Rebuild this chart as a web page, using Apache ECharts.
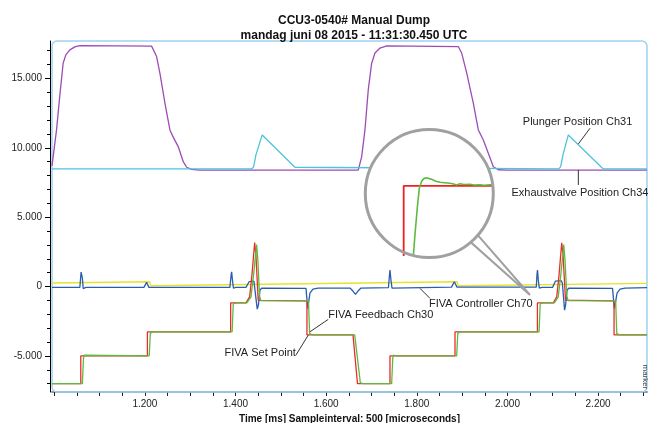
<!DOCTYPE html>
<html>
<head>
<meta charset="utf-8">
<script src="https://cdn.jsdelivr.net/npm/echarts@6/dist/echarts.min.js"></script>
<style>
  html, body { margin: 0; padding: 0; background: #fff; }
  #main { width: 651px; height: 423px; }
</style>
</head>
<body>
<div id="main"></div>
<script>
// tijd in ms, waarden in ruwe eenheden
const xTickMarks = [1000, 1050, 1100, 1150, 1200, 1250, 1300, 1350, 1400, 1450, 1500, 1550, 1600, 1650,
  1700, 1750, 1800, 1850, 1900, 1950, 2000, 2050, 2100, 2150, 2200, 2250, 2300]
const xLabels = [1200, 1400, 1600, 1800, 2000, 2200]
const yLabels = [-5000, 0, 5000, 10000, 15000]
const yMinorTicks = [-7000, -6000, -5000, -4000, -3000, -2000, -1000, 0, 1000, 2000, 3000, 4000, 5000,
  6000, 7000, 8000, 9000, 10000, 11000, 12000, 13000, 14000, 15000, 16000, 17000]

// Exhaustvalve Position Ch34
const exhaustValve = [
  [995, 8700], [1005, 11290], [1012.4, 13820], [1019.6, 16100], [1025.5, 16700], [1034.4, 17060],
  [1045.4, 17280], [1056.5, 17370], [1214.8, 17330], [1218.3, 17260], [1225.8, 16580], [1233.1, 15380],
  [1244.2, 13220], [1255.2, 11290], [1262.5, 10770], [1273.5, 10090], [1284.6, 9000], [1292.1, 8600],
  [1303.1, 8450], [1320, 8390], [1670.9, 8400], [1678.4, 9370], [1685.6, 11290], [1692.9, 14180],
  [1700.4, 16100], [1707.7, 16830], [1718.8, 17190], [1733.6, 17350], [1891.6, 17300], [1899.1, 16830],
  [1910.2, 15380], [1924.7, 13220], [1935.8, 11290], [1946.8, 10570], [1957.8, 9610], [1968.9, 8640],
  [1979.9, 8420], [2000, 8390], [2308, 8390]
]

// Plunger Position Ch31
const plunger = [
  [995, 8480], [1436.2, 8480], [1440, 8650], [1445, 9490], [1458.9, 10930], [1531.1, 8600], [1535.5, 8480],
  [2113.5, 8480], [2117.5, 8650], [2122.5, 9490], [2134.4, 10930], [2207.5, 8600], [2212, 8480], [2308, 8480]
]

// gele hulplijn
const auxTrace = [[995, 255], [1210.5, 346], [1212.5, 60], [1889, 346], [1891, 60], [2308, 236]]

// FIVA Controller Ch70
const controller = [
  [995, -60],
  [1056.5, -58], [1059.2, 1046], [1060.2, 1190], [1062, 613], [1063.8, -144], [1066.4, -108], [1069.8, -58],
  [1197.8, -58], [1203.8, 303], [1208.8, -58],
  [1387.6, -58], [1390.5, 902], [1391.4, 1068], [1393.2, 469], [1395.4, -108], [1400.9, -58],
  [1423, -58], [1430.3, 361], [1440.6, 397], [1443.9, 253], [1447.9, -1623], [1450.5, -1335], [1453.9, -253], [1458.3, -108],
  [1555.5, -130], [1557.7, -974], [1559.2, -1573], [1561, -1190], [1564.2, -469], [1570.9, -180], [1582, -108],
  [1652.5, -108], [1659.1, -325], [1664.7, -563], [1670.2, -325], [1676.8, -108],
  [1737.5, -72], [1739.7, 830], [1740.8, 1190], [1743, 469], [1745.3, -108], [1749.7, -72],
  [1876.6, -40], [1882.8, 346], [1888.7, -40],
  [2063.7, -40], [2065.3, 902], [2066.4, 1190], [2068.1, 469], [2070.4, -108], [2075.9, -58],
  [2099.6, -58], [2106.2, 397], [2118.4, 433], [2121.2, 253], [2126.1, -1696], [2128.3, -1335], [2131.6, -253], [2136, -108],
  [2232, -130], [2234.2, -974], [2236, -1573], [2238.2, -1190], [2241.9, -469], [2248.6, -180], [2259.6, -108],
  [2308, -72]
]

// FIVA Set Point
const setPoint = [
  [995, -7000], [1058.5, -7000], [1058.5, -5000], [1205.5, -5000], [1205.5, -3270], [1389.2, -3270], [1389.2, -1180],
  [1423, -1180], [1431.1, -740], [1436.2, 830], [1442.2, 3170], [1445, 2270], [1450.1, -1000], [1453.9, -1030],
  [1557.6, -1030], [1557.6, -3480], [1659.2, -3480], [1669.1, -7000], [1740.8, -7000], [1740.8, -5000],
  [1884.3, -5000], [1884.3, -3270], [2066.2, -3270], [2066.2, -1180],
  [2101.3, -1180], [2108.8, -740], [2113.9, 830], [2119.8, 3160], [2122.7, 2270], [2128.2, -980], [2131.6, -1030],
  [2235.3, -1030], [2235.3, -3480], [2308, -3480]
]

// FIVA Feedbach Ch30
const feedback = [
  [995, -7000], [1062, -7000], [1064.5, -5150], [1066, -4950], [1070, -5000],
  [1209.5, -5000], [1212, -3350], [1214, -3220], [1218, -3270],
  [1392.5, -3270], [1395, -1250], [1397, -1130], [1402, -1180],
  [1425, -1180], [1434, -760], [1440, 900], [1446.5, 3030], [1449.5, 1800], [1453, -700], [1456, -1010], [1460, -1030],
  [1561, -1030], [1563.5, -3400], [1565.5, -3530], [1570, -3480],
  [1663, -3480], [1675.5, -6950], [1678, -7020], [1682, -7000],
  [1744.5, -7000], [1747, -5150], [1748.5, -4950], [1753, -5000],
  [1888, -5000], [1890.5, -3350], [1892.5, -3220], [1897, -3270],
  [2069.8, -3270], [2072.3, -1250], [2074, -1130], [2079, -1180],
  [2103.5, -1180], [2112, -760], [2118, 900], [2124.3, 3030], [2127.3, 1800], [2131, -700], [2134, -1010], [2138, -1030],
  [2238.8, -1030], [2241.3, -3400], [2243.3, -3530], [2248, -3480],
  [2308, -3480]
]

// vergroting van de stap rond 1.740 ms
const zoomSetPoint = [[1736, -7000], [1739.1, -7000], [1739.1, -5000], [1746.5, -5000]]
const zoomFeedback = [
  [1739.6, -7000], [1739.85, -5561], [1739.98, -5389], [1740.16, -5177], [1740.32, -5019], [1740.51, -4961],
  [1740.7, -4940], [1740.9, -4935], [1741.1, -4942], [1741.29, -4947], [1741.6, -4962], [1741.94, -4971],
  [1742.3, -4974], [1742.72, -4979], [1743.0, -4984], [1743.24, -4992], [1743.5, -4983], [1743.8, -4988],
  [1744.28, -4987], [1744.6, -4993], [1745.06, -4990], [1745.4, -4994], [1745.84, -4991], [1746.5, -4992]
]

// labels met aanwijslijn, in data-eenheden
const annotations = [
  { text: 'Plunger Position Ch31', at: [2154.7, 11869], from: [2182.3, 11414], to: [2156.5, 10281] },
  { text: 'Exhaustvalve Position Ch34', at: [2160, 6724], from: [2156.5, 7323], to: [2156.5, 8405] },
  { text: 'FIVA Controller Ch70', at: [1941.3, -1227], from: [1829.1, -851], to: [1807.1, -130] },
  { text: 'FIVA Feedbach Ch30', at: [1720.5, -2056], from: [1604.6, -2367], to: [1564.2, -3261] },
  { text: 'FIVA Set Point', at: [1454.5, -4776], from: [1533.3, -4942], to: [1560.5, -3499] }
]

const FONT = '"Liberation Sans", Arial, sans-serif'

const fmt = (v) => {
  const s = Math.abs(Math.round(v)).toString().replace(/\B(?=(\d{3})+(?!\d))/g, '.')
  return (v < 0 ? '-' : '') + s
}

const lineSeries = (name, data, color, extra) => Object.assign({
  name,
  type: 'line',
  data,
  showSymbol: false,
  symbol: 'none',
  animation: false,
  z: 2,
  lineStyle: { color, width: 1.3 }
}, extra || {})

const chart = echarts.init(document.getElementById('main'))

const option = {
  animation: false,
  backgroundColor: '#fff',
  title: {
    text: 'CCU3-0540# Manual Dump\nmandag juni 08 2015 - 11:31:30.450 UTC',
    left: 349,
    textAlign: 'center',
    top: 8,
    textStyle: { fontFamily: FONT, fontWeight: 'bold', fontSize: 12, lineHeight: 15, color: '#111' }
  },
  grid: [
    { left: 52, top: 41, width: 595, height: 351, outerBoundsMode: 'none', containLabel: false },
    { left: 364, top: 129, width: 128, height: 126, outerBoundsMode: 'none', containLabel: false }
  ],
  xAxis: [
    {
      type: 'value', gridIndex: 0, position: 'bottom', min: 995, max: 2308,
      axisLine: { show: true, onZero: false, lineStyle: { color: '#8d99a6', width: 2 } },
      axisTick: { show: true, inside: false, customValues: xTickMarks, length: 4, lineStyle: { color: '#222', width: 1 } },
      axisLabel: { customValues: xLabels, formatter: fmt, fontSize: 10, color: '#222', fontFamily: FONT, margin: 7 },
      splitLine: { show: false },
      name: 'Time [ms] Sampleinterval: 500 [microseconds]',
      nameLocation: 'middle',
      nameGap: 19,
      nameTextStyle: { fontFamily: FONT, fontWeight: 'bold', fontSize: 10, color: '#111' }
    },
    { type: 'value', gridIndex: 1, min: 1736, max: 1746, show: false }
  ],
  yAxis: [
    {
      type: 'value', gridIndex: 0, position: 'left', min: -7600, max: 17700, offset: 2,
      axisLine: { show: true, onZero: false, lineStyle: { color: '#000', width: 1 } },
      axisTick: { show: true, customValues: yLabels, length: 5, lineStyle: { color: '#000' } },
      axisLabel: { customValues: yLabels, formatter: fmt, fontSize: 10, color: '#222', fontFamily: FONT, margin: 8 },
      splitLine: { show: false }
    },
    {
      type: 'value', gridIndex: 0, position: 'left', min: -7600, max: 17700, offset: 2,
      axisLine: { show: false },
      axisTick: { show: true, customValues: yMinorTicks, length: 3, lineStyle: { color: '#000' } },
      axisLabel: { show: false },
      splitLine: { show: false }
    },
    { type: 'value', gridIndex: 1, min: -5548, max: -4548, show: false }
  ],
  series: [
    lineSeries('Exhaustvalve Position Ch34', exhaustValve, '#9c4db3'),
    lineSeries('Plunger Position Ch31', plunger, '#4dc4da'),
    lineSeries('aux', auxTrace, '#e4e42c'),
    lineSeries('FIVA Controller Ch70', controller, '#2a5db0'),
    lineSeries('FIVA Set Point', setPoint, '#ee2a2a'),
    lineSeries('FIVA Feedbach Ch30', feedback, '#5cbb3e'),
    lineSeries('zoom set point', zoomSetPoint, '#f02020',
      { xAxisIndex: 1, yAxisIndex: 2, z: 11, lineStyle: { color: '#f02020', width: 1.8 } }),
    lineSeries('zoom feedback', zoomFeedback, '#5cbb3e',
      { xAxisIndex: 1, yAxisIndex: 2, z: 11, lineStyle: { color: '#5cbb3e', width: 1.6 } })
  ]
}

chart.setOption(option)

const px = (p) => chart.convertToPixel({ xAxisIndex: 0, yAxisIndex: 0 }, p)

const graphics = [
  // kader
  { type: 'rect', z: 1, shape: { x: 52, y: 41, width: 595, height: 351, r: 5 },
    style: { fill: 'none', stroke: '#9fd2f0', lineWidth: 1.5 } },
  // vergrootglas
  { type: 'polygon', z: 9, shape: { points: [[472.8, 229.4], [465, 237.1], [530, 295]] },
    style: { fill: '#fff', stroke: '#a0a0a0', lineWidth: 2 } },
  { type: 'circle', z: 10, shape: { cx: 429.3, cy: 193.5, r: 64 }, style: { fill: '#fff', stroke: null } },
  { type: 'circle', z: 12, shape: { cx: 429.3, cy: 193.5, r: 64 },
    style: { fill: 'none', stroke: '#a0a0a0', lineWidth: 3 } },
  { type: 'text', z: 13, rotation: -Math.PI / 2, x: 645, y: 377,
    style: { text: 'marker', fill: '#444', font: '8px ' + FONT, textAlign: 'center', textVerticalAlign: 'middle',
      align: 'center', verticalAlign: 'middle' } }
]

annotations.forEach((a) => {
  const p = px(a.at)
  const f = px(a.from)
  const t = px(a.to)
  graphics.push({ type: 'line', z: 13, shape: { x1: f[0], y1: f[1], x2: t[0], y2: t[1] },
    style: { stroke: '#333', lineWidth: 1 } })
  graphics.push({ type: 'text', z: 13, x: p[0], y: p[1],
    style: { text: a.text, fill: '#222', font: '11px ' + FONT, textAlign: 'center', textVerticalAlign: 'middle',
      align: 'center', verticalAlign: 'middle' } })
})

chart.setOption({ graphic: graphics })
</script>
</body>
</html>
